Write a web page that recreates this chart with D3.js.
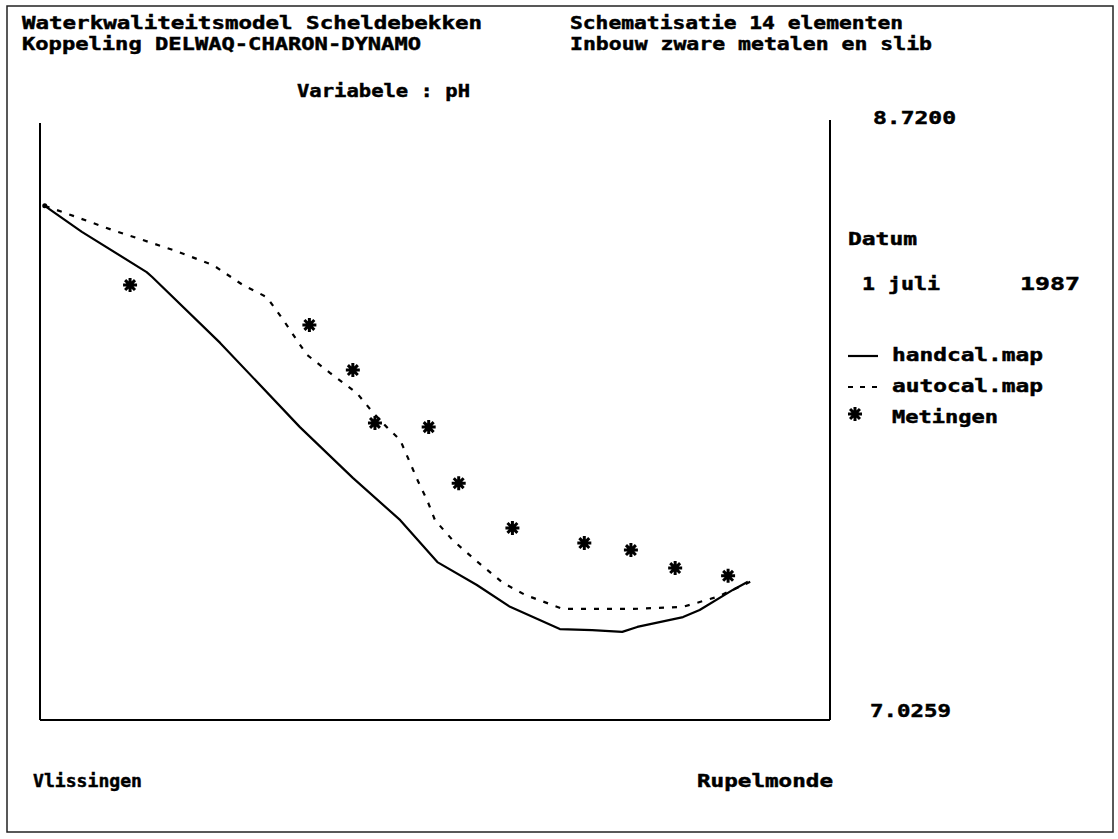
<!DOCTYPE html>
<html>
<head>
<meta charset="utf-8">
<script src="https://cdn.jsdelivr.net/npm/d3@7"></script>
<style>
  html, body { margin: 0; padding: 0; background: #fff; }
  svg text { font-family: "DejaVu Sans Mono", "Liberation Mono", monospace; font-weight: bold; fill: #000; stroke: #000; stroke-width: 0.45; }
</style>
</head>
<body>
<svg id="chart" width="1118" height="839"></svg>
<script>
// ---- data (x: position along the estuary, 0 = Vlissingen, ~100 = Rupelmonde; y: pH) ----
const handcalX = [0.6, 5.3, 13.5, 14.2, 22.8, 32.9, 39.6, 45.6, 50.3, 55.3, 59.5, 65.8, 69.9, 73.7, 75.6, 81.4, 83.5, 87.7, 89.6];
const handcalY = [8.485, 8.411, 8.297, 8.283, 8.096, 7.857, 7.713, 7.593, 7.474, 7.409, 7.347, 7.284, 7.281, 7.276, 7.290, 7.318, 7.338, 7.395, 7.418];

const autocalX = [0.6, 2.9, 9.2, 16.8, 21.9, 25.7, 28.7, 30.8, 32.5, 33.8, 36.7, 40.1, 42.2, 43.9, 45.6, 46.8, 47.9, 49.0, 50.0, 52.2, 55.1, 58.6, 61.4, 66.2, 75.1, 81.4, 85.7, 89.9];
const autocalY = [8.485, 8.467, 8.416, 8.360, 8.317, 8.260, 8.226, 8.161, 8.104, 8.062, 8.011, 7.954, 7.897, 7.857, 7.820, 7.758, 7.701, 7.650, 7.593, 7.537, 7.480, 7.415, 7.381, 7.341, 7.341, 7.347, 7.375, 7.418];

const metingenX = [11.4, 34.1, 39.6, 42.4, 49.2, 53.0, 59.8, 68.9, 74.8, 80.4, 87.1];
const metingenY = [8.260, 8.147, 8.019, 7.869, 7.857, 7.698, 7.571, 7.528, 7.508, 7.457, 7.435];

const yMin = 7.0259, yMax = 8.7200;
const yTickLabels = ["8.7200", "7.0259"];
const legendLabels = ["handcal.map", "autocal.map", "Metingen"];
const titleLeft = ["Waterkwaliteitsmodel Scheldebekken", "Koppeling DELWAQ-CHARON-DYNAMO"];
const titleRight = ["Schematisatie 14 elementen", "Inbouw zware metalen en slib"];
const variableLabel = "Variabele : pH";
const dateLabels = ["Datum", "1 juli", "1987"];
const locationLabels = ["Vlissingen", "Rupelmonde"];

// ---- drawing ----
const svg = d3.select("#chart");
const x = d3.scaleLinear().domain([0, 100]).range([40, 830]);
const y = d3.scaleLinear().domain([yMin, yMax]).range([720, 123]);

// outer frame
svg.append("rect").attr("x", 7).attr("y", 6).attr("width", 1106).attr("height", 826)
  .attr("fill", "none").attr("stroke", "#222").attr("stroke-width", 1.5);

// plot frame (left, right, bottom)
const g = svg.append("g");
g.append("line").attr("x1", x(0)).attr("x2", x(0)).attr("y1", y(yMax)).attr("y2", y(yMin))
  .attr("stroke", "#000").attr("stroke-width", 2);
g.append("line").attr("x1", x(100)).attr("x2", x(100)).attr("y1", y(yMax) - 3).attr("y2", y(yMin))
  .attr("stroke", "#000").attr("stroke-width", 2);
g.append("line").attr("x1", x(0)).attr("x2", x(100)).attr("y1", y(yMin)).attr("y2", y(yMin))
  .attr("stroke", "#000").attr("stroke-width", 2);

function txt(s, px, py, len, size) {
  const t = svg.append("text").attr("x", px).attr("y", py).attr("font-size", size || 16).text(s);
  if (len) t.attr("textLength", len).attr("lengthAdjust", "spacingAndGlyphs");
  return t;
}

txt(titleLeft[0], 22, 29, 460, 17);
txt(titleLeft[1], 22, 50, 399, 17);
txt(titleRight[0], 570, 29, 333, 17);
txt(titleRight[1], 570, 50, 362, 17);
txt(variableLabel, 297, 97, 173, 17);

txt(yTickLabels[0], 873, 124, 83, 17);
txt(yTickLabels[1], 870, 717, 81, 18);

txt(dateLabels[0], 848, 245, 69, 17);
txt(dateLabels[1], 862, 290, 78, 17);
txt(dateLabels[2], 1020, 290, 60, 17);

txt(locationLabels[0], 33, 787, 109, 17);
txt(locationLabels[1], 697, 787, 136, 17);

// lines
const handcal = handcalX.map((v, i) => [v, handcalY[i]]);
const autocal = autocalX.map((v, i) => [v, autocalY[i]]);
const line = d3.line().x(d => x(d[0])).y(d => y(d[1]));

g.append("path").datum(handcal).attr("d", line)
  .attr("fill", "none").attr("stroke", "#000").attr("stroke-width", 2.2).attr("stroke-linejoin", "round");
g.append("path").datum(autocal).attr("d", line)
  .attr("fill", "none").attr("stroke", "#000").attr("stroke-width", 2.2)
  .attr("stroke-dasharray", "5,8");

// start dot
g.append("circle").attr("cx", x(handcalX[0])).attr("cy", y(handcalY[0])).attr("r", 2.5).attr("fill", "#000");

// stars
function starPath(r) {
  let p = "";
  for (let k = 0; k < 4; k++) {
    const a = k * Math.PI / 4;
    const dx = r * Math.cos(a), dy = r * Math.sin(a);
    p += `M${-dx},${-dy}L${dx},${dy}`;
  }
  return p;
}
const metingen = metingenX.map((v, i) => [v, metingenY[i]]);
g.selectAll(".star").data(metingen).join("path").attr("class", "star")
  .attr("transform", d => `translate(${x(d[0])},${y(d[1])})`)
  .attr("d", starPath(7)).attr("stroke", "#000").attr("stroke-width", 3).attr("fill", "none");

// legend
svg.append("line").attr("x1", 848).attr("x2", 878).attr("y1", 356).attr("y2", 356)
  .attr("stroke", "#000").attr("stroke-width", 2.2);
txt(legendLabels[0], 892, 361, 151, 17);
svg.append("line").attr("x1", 848).attr("x2", 880).attr("y1", 387).attr("y2", 387)
  .attr("stroke", "#000").attr("stroke-width", 2.2).attr("stroke-dasharray", "5,7");
txt(legendLabels[1], 892, 392, 151, 17);
svg.append("path").attr("transform", "translate(855,414)").attr("d", starPath(7))
  .attr("stroke", "#000").attr("stroke-width", 3).attr("fill", "none");
txt(legendLabels[2], 892, 423, 106, 17);
</script>
</body>
</html>
